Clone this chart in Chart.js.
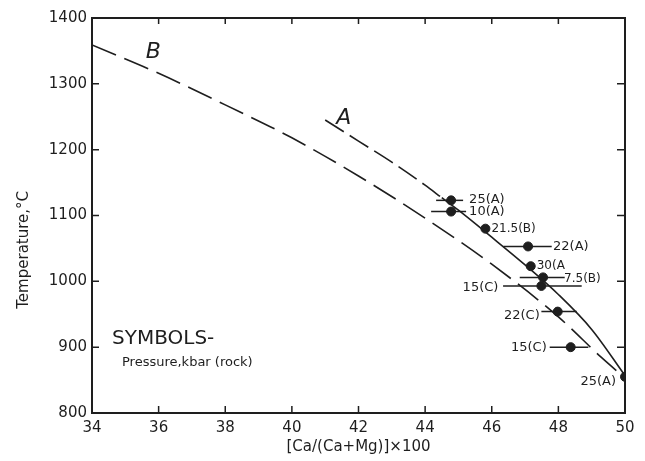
<!DOCTYPE html>
<html>
<head>
<meta charset="utf-8">
<title>Temperature vs Ca/(Ca+Mg)</title>
<script src="https://cdn.jsdelivr.net/npm/chart.js@4.4.1/dist/chart.umd.min.js"></script>
<style>
    body { margin: 0; background: #fff; }
    #chart { display: block; }
</style>
</head>
<body>
<canvas id="chart" width="645" height="461"></canvas>
<script>
// curve B, dashed all the way
const curveBX = [34, 36, 38, 40, 42, 44, 46, 48, 49.3, 50];
const curveBT = [1359, 1316, 1268, 1218, 1160, 1096, 1026, 946, 884, 853];

// curve A, dashed up to curveADashEnd then solid
const curveAX = [41, 42, 43, 44, 44.5, 45, 46, 47, 48, 49, 50];
const curveAT = [1245, 1213, 1181, 1146, 1127, 1108, 1067, 1025, 980, 927, 857];
const curveADashEnd = 44.5;

// experiments: pressure label, composition, temperature, composition range
const pointLabels = ['25(A)', '10(A)', '21.5(B)', '22(A)', '30(A', '7.5(B)', '15(C)', '22(C)', '15(C)', '25(A)'];
const pointX = [44.78, 44.78, 45.81, 47.09, 47.17, 47.54, 47.49, 47.98, 48.37, 50];
const pointT = [1123, 1106, 1080, 1053, 1023, 1006, 993, 954, 900, 855];
const rangeLow = [44.33, 44.18, null, 46.35, null, 46.84, 46.34, 47.49, 47.74, null];
const rangeHigh = [45.14, 45.23, null, 47.8, null, 48.19, 48.7, 48.55, 48.9, null];

const xTicks = [34, 36, 38, 40, 42, 44, 46, 48, 50];
const yTicks = [800, 900, 1000, 1100, 1200, 1300, 1400];

const curveNames = ['A', 'B'];
const curveNameX = [41.56, 35.84];
const curveNameT = [1247, 1348];

const ink = '#1e1e1e';
const font = 'DejaVu Sans';

// where each point label sits relative to its marker: dx, dy, align, size
const labelPlace = [
    [18, -1, 'left', 13], [18, 0, 'left', 13], [6, 0, 'left', 12], [25, 0, 'left', 13],
    [6, 0, 'left', 12], [21, 1, 'left', 12], [-43, 2, 'right', 13], [-18, 4, 'right', 13],
    [-24, 0, 'right', 13], [-9, 5, 'right', 13]
];

const toXY = (xs, ys) => xs.map((x, i) => ({ x: x, y: ys[i] }));

const rangeBars = {
    id: 'rangeBars',
    beforeDatasetsDraw(chart) {
        const { ctx, scales: { x, y } } = chart;
        ctx.save();
        ctx.strokeStyle = ink;
        ctx.lineWidth = 1.5;
        rangeLow.forEach((lo, i) => {
            if (lo === null) return;
            const py = y.getPixelForValue(pointT[i]);
            ctx.beginPath();
            ctx.moveTo(x.getPixelForValue(lo), py);
            ctx.lineTo(x.getPixelForValue(rangeHigh[i]), py);
            ctx.stroke();
        });
        ctx.restore();
    }
};

const textMarks = {
    id: 'textMarks',
    afterDraw(chart) {
        const { ctx, chartArea: a, scales: { x, y } } = chart;
        ctx.save();

        // frame: top and right edges plus inward ticks
        ctx.strokeStyle = ink;
        ctx.lineWidth = 2;
        ctx.beginPath();
        ctx.moveTo(a.left, a.top);
        ctx.lineTo(a.right, a.top);
        ctx.lineTo(a.right, a.bottom);
        ctx.stroke();
        ctx.lineWidth = 1.5;
        x.ticks.forEach(t => {
            const px = x.getPixelForValue(t.value);
            if (px <= a.left + 1 || px >= a.right - 1) return;
            ctx.beginPath();
            ctx.moveTo(px, a.bottom); ctx.lineTo(px, a.bottom - 7);
            ctx.moveTo(px, a.top); ctx.lineTo(px, a.top + 6);
            ctx.stroke();
        });
        y.ticks.forEach(t => {
            const py = y.getPixelForValue(t.value);
            if (py <= a.top + 1 || py >= a.bottom - 1) return;
            ctx.beginPath();
            ctx.moveTo(a.left, py); ctx.lineTo(a.left + 7, py);
            ctx.moveTo(a.right, py); ctx.lineTo(a.right - 8, py);
            ctx.stroke();
        });

        ctx.fillStyle = ink;
        ctx.textBaseline = 'middle';

        // point labels
        pointLabels.forEach((txt, i) => {
            const p = labelPlace[i];
            ctx.font = p[3] + 'px "' + font + '"';
            ctx.textAlign = p[2];
            ctx.fillText(txt, x.getPixelForValue(pointX[i]) + p[0], y.getPixelForValue(pointT[i]) + p[1]);
        });

        // curve names
        ctx.font = 'italic 22px "' + font + '"';
        ctx.textAlign = 'center';
        curveNames.forEach((n, i) => {
            ctx.fillText(n, x.getPixelForValue(curveNameX[i]), y.getPixelForValue(curveNameT[i]));
        });

        // symbols note
        ctx.textAlign = 'left';
        ctx.font = '20px "' + font + '"';
        ctx.fillText('SYMBOLS-', x.getPixelForValue(34.6), y.getPixelForValue(913));
        ctx.font = '13px "' + font + '"';
        ctx.fillText('Pressure,kbar (rock)', x.getPixelForValue(34.9), y.getPixelForValue(876));

        // y axis title
        ctx.font = '15px "' + font + '"';
        ctx.textAlign = 'center';
        ctx.translate(24, a.top + (a.bottom - a.top) * 0.587);
        ctx.rotate(-Math.PI / 2);
        ctx.fillText('Temperature,\u00B0C', 0, 0);
        ctx.restore();
    }
};

document.addEventListener('DOMContentLoaded', function() {
    Chart.defaults.font.family = font;
    Chart.defaults.color = ink;

    const ctx = document.getElementById('chart').getContext('2d');
    new Chart(ctx, {
        type: 'scatter',
        data: {
            datasets: [{
                label: 'Experiments',
                data: toXY(pointX, pointT),
                pointRadius: 4.5,
                pointBackgroundColor: ink,
                pointBorderColor: ink,
                showLine: false
            }, {
                label: 'A',
                data: toXY(curveAX, curveAT),
                showLine: true,
                pointRadius: 0,
                borderColor: ink,
                borderWidth: 1.6,
                cubicInterpolationMode: 'monotone',
                segment: {
                    borderDash: c => c.p1.parsed.x <= curveADashEnd ? [22, 7] : []
                }
            }, {
                label: 'B',
                data: toXY(curveBX, curveBT),
                showLine: true,
                pointRadius: 0,
                borderColor: ink,
                borderWidth: 1.6,
                borderDash: [26, 9],
                cubicInterpolationMode: 'monotone'
            }]
        },
        options: {
            responsive: false,
            animation: false,
            layout: { padding: { top: 18, right: 20, left: 0, bottom: 0 } },
            plugins: {
                legend: { display: false },
                tooltip: { enabled: false }
            },
            scales: {
                x: {
                    type: 'linear',
                    min: 34,
                    max: 50,
                    afterBuildTicks: s => { s.ticks = xTicks.map(v => ({ value: v })); },
                    afterFit: s => { s.height = 48; },
                    ticks: { font: { size: 15 }, color: ink, padding: 6, callback: v => String(v) },
                    grid: { display: false, drawTicks: false },
                    border: { display: true, color: ink, width: 2 },
                    title: {
                        display: true,
                        text: '[Ca/(Ca+Mg)]\u00D7100',
                        font: { size: 15 },
                        color: ink,
                        padding: { top: 0, bottom: 5 }
                    }
                },
                y: {
                    type: 'linear',
                    min: 800,
                    max: 1400,
                    afterBuildTicks: s => { s.ticks = yTicks.map(v => ({ value: v })); },
                    afterFit: s => { s.width = 92; },
                    ticks: { font: { size: 15 }, color: ink, padding: 5, callback: v => String(v) },
                    grid: { display: false, drawTicks: false },
                    border: { display: true, color: ink, width: 2 }
                }
            }
        },
        plugins: [rangeBars, textMarks]
    });
});
</script>
</body>
</html>
